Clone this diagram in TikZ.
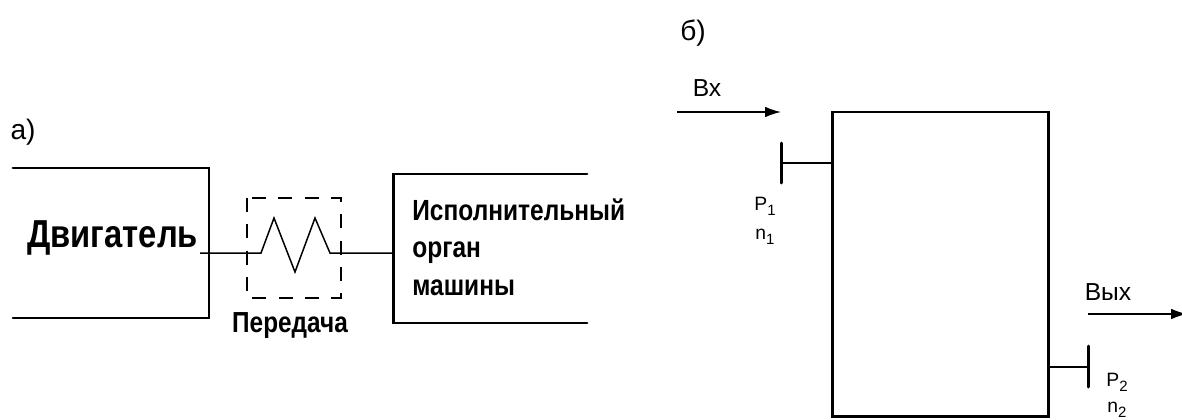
\documentclass[tikz,border=0pt]{standalone}
\usepackage{fontspec}
\setmainfont{Liberation Sans}
\newfontfamily\narrowsans[FakeStretch=0.84]{Liberation Sans}
\usetikzlibrary{arrows.meta}
\newcommand{\lowidx}[1]{\raisebox{-0.25em}{\fontsize{8.5}{9}\selectfont #1}}
\tikzset{
  wall/.style={line width=1.7pt, line cap=round},
  shaft/.style={line width=0.85pt},
  casing/.style={line width=1.6pt, dash pattern=on 8pt off 7pt},
  caption/.style={inner sep=0pt, font=\narrowsans\bfseries},
  label/.style={inner sep=0pt},
  flow/.style={line width=0.85pt, -{Latex[length=9pt,width=6pt]}}
}
\begin{document}
\begin{tikzpicture}[x=0.02cm,y=-0.02cm]
\useasboundingbox (0,0) rectangle (1182,419);

% ---------- a) engine -> transmission -> working member ----------
\node[label, font=\fontsize{16}{18}\selectfont] (la) at (23,132) {а)};

% engine housing, open to the left
\coordinate (e1) at (13,168);
\coordinate (e2) at (209,168);
\coordinate (e3) at (209,318);
\coordinate (e4) at (13,318);
\draw[wall] (e1) -- (e2) -- (e3) -- (e4);
\node[caption, font=\fontsize{22.2}{24}\narrowsans\bfseries, anchor=base west] (eng) at (27,247) {Двигатель};

% working member housing, open to the right
\coordinate (w1) at (587,174);
\coordinate (w2) at (393,174);
\coordinate (w3) at (393,323);
\coordinate (w4) at (587,323);
\draw[wall] (w1) -- (w2) -- (w3) -- (w4);
\node[caption, font=\fontsize{16.6}{21.5}\narrowsans\bfseries, anchor=north west, align=left] (wm) at (412,198)
  {Исполнительный\\орган\\машины};

% transmission: dashed casing with a spring inside
\coordinate (t1) at (247,198);
\coordinate (t2) at (341,298);
\draw[casing] (t1) rectangle (t2);
\node[caption, font=\fontsize{16.5}{18}\narrowsans\bfseries] (tr) at (290,326) {Передача};

\coordinate (s0) at (200,253);
\coordinate (s1) at (261,253);
\coordinate (s2) at (274,218);
\coordinate (s3) at (295,272);
\coordinate (s4) at (315,218);
\coordinate (s5) at (330,253);
\coordinate (s6) at (393,253);
\draw[shaft, line join=miter] (s0) -- (s1) -- (s2) -- (s3) -- (s4) -- (s5) -- (s6);

% ---------- б) mechanism as a black box ----------
\node[label, font=\fontsize{16}{18}\selectfont] (lb) at (693,33) {б)};

\coordinate (b1) at (832,112);
\coordinate (b2) at (1048,416);
\draw[wall] (b1) rectangle (b2);

% input
\coordinate (in0) at (677,112);
\coordinate (in1) at (781,112);
\draw[flow] (in0) -- (in1);
\node[label, font=\fontsize{14}{16}\selectfont] (vx) at (707,88) {Вх};

\coordinate (i0) at (832,163);
\coordinate (i1) at (781,163);
\coordinate (i2) at (781,143);
\coordinate (i3) at (781,183);
\draw[wall, line cap=butt] (i0) -- (i1);
\draw[wall] (i2) -- (i3);
\node[label, font=\fontsize{11}{13}\selectfont] (p1) at (765,206) {P\lowidx{1}};
\node[label, font=\fontsize{11}{13}\selectfont] (n1) at (765,237) {n\lowidx{1}};

% output
\coordinate (out0) at (1088,314);
\coordinate (out1) at (1187,314);
\draw[flow] (out0) -- (out1);
\node[label, font=\fontsize{14}{16}\selectfont] (vyx) at (1108,292) {Вых};

\coordinate (o0) at (1048,367);
\coordinate (o1) at (1088,367);
\coordinate (o2) at (1088,346);
\coordinate (o3) at (1088,387);
\draw[wall, line cap=butt] (o0) -- (o1);
\draw[wall] (o2) -- (o3);
\node[label, font=\fontsize{11}{13}\selectfont] (p2) at (1117,382) {P\lowidx{2}};
\node[label, font=\fontsize{11}{13}\selectfont] (n2) at (1117,410) {n\lowidx{2}};
\end{tikzpicture}
\end{document}
